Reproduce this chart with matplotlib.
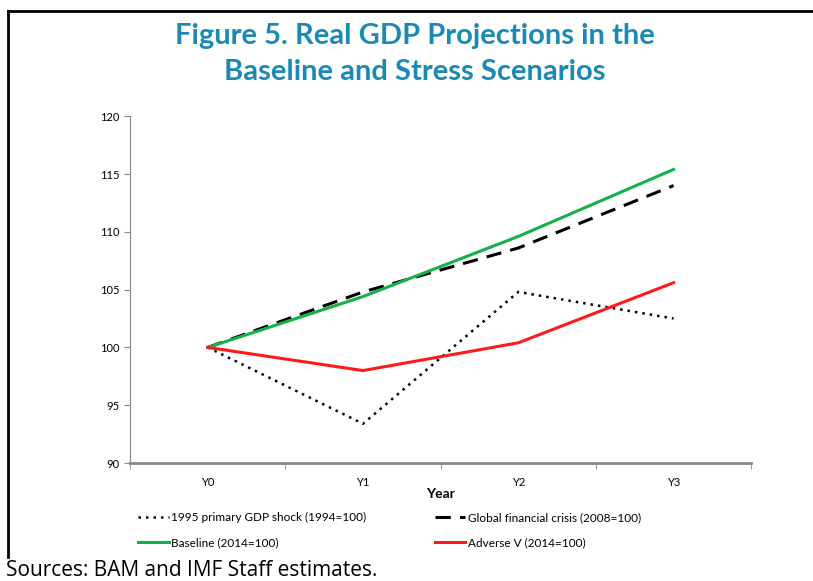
import matplotlib
matplotlib.use("Agg")
import matplotlib.pyplot as plt
from matplotlib.lines import Line2D

# data
years = ["Y0", "Y1", "Y2", "Y3"]
shock_1995 = [100, 93.4, 104.8, 102.5]
gfc_2008 = [100, 104.8, 108.6, 114.0]
baseline = [100, 104.4, 109.6, 115.4]
adverse_v = [100, 98.0, 100.4, 105.6]

plt.rcParams['font.family'] = ['Lato', 'DejaVu Sans']

fig = plt.figure(figsize=(8.13, 5.81), dpi=100)
ax = fig.add_axes([0.160, 0.203, 0.764, 0.597])

x = list(range(len(years)))
l1, = ax.plot(x, shock_1995, color='black', lw=1.8, ls=(0, (1, 2)),
              label='1995 primary GDP shock (1994=100)')
l2, = ax.plot(x, gfc_2008, color='black', lw=2.2, ls=(0, (5, 3)),
              label='Global financial crisis (2008=100)')
l3, = ax.plot(x, baseline, color='#14b04a', lw=2.2, label='Baseline (2014=100)')
l4, = ax.plot(x, adverse_v, color='#ff1a1a', lw=2.2, label='Adverse V (2014=100)')

ax.set_xlim(-0.5, 3.5)
ax.set_ylim(90, 120)
ax.set_yticks(range(90, 121, 5))
ax.set_xticks(x)
ax.set_xticklabels(years)
ax.set_xticks([-0.5, 0.5, 1.5, 2.5, 3.5], minor=True)

for s in ['top', 'right']:
    ax.spines[s].set_visible(False)
ax.spines['left'].set_color('#888888')
ax.spines['bottom'].set_color('#888888')
ax.spines['bottom'].set_linewidth(2)
ax.tick_params(axis='y', labelsize=8, color='#888888', length=4)
ax.tick_params(axis='x', which='major', length=0, labelsize=8, pad=10)
ax.tick_params(axis='x', which='minor', length=4, color='#888888')
ax.set_xlabel('Year', fontsize=10, fontweight='bold', labelpad=0)

fig.text(0.51, 1 - 54 / 581, 'Figure 5. Real GDP Projections in the\nBaseline and Stress Scenarios',
         ha='center', va='center', fontsize=21, fontweight='bold',
         color='#1a8ab5', linespacing=1.45)

# row-wise order for a 2-column legend
fig.legend([l1, l3, l2, l4], [l.get_label() for l in (l1, l3, l2, l4)],
           loc='center left', bbox_to_anchor=(138 / 813, 1 - 530 / 581),
           ncol=2, frameon=False, borderpad=0, borderaxespad=0,
           fontsize=8.5, handlelength=2.6, handletextpad=0.2,
           columnspacing=5.8, labelspacing=1.2)

fig.text(6 / 813, 5 / 581, 'Sources: BAM and IMF Staff estimates.',
         fontsize=15, family=['Open Sans', 'DejaVu Sans'], va='baseline')

# box frame around the chart
fig.add_artist(Line2D([8 / 813, 8 / 813], [1 - 557 / 581, 1 - 11 / 581],
                      color='black', lw=2, transform=fig.transFigure))
fig.add_artist(Line2D([8 / 813, 1.0], [1 - 11 / 581, 1 - 11 / 581],
                      color='black', lw=2, transform=fig.transFigure))

fig.savefig('out.png', dpi=100)
